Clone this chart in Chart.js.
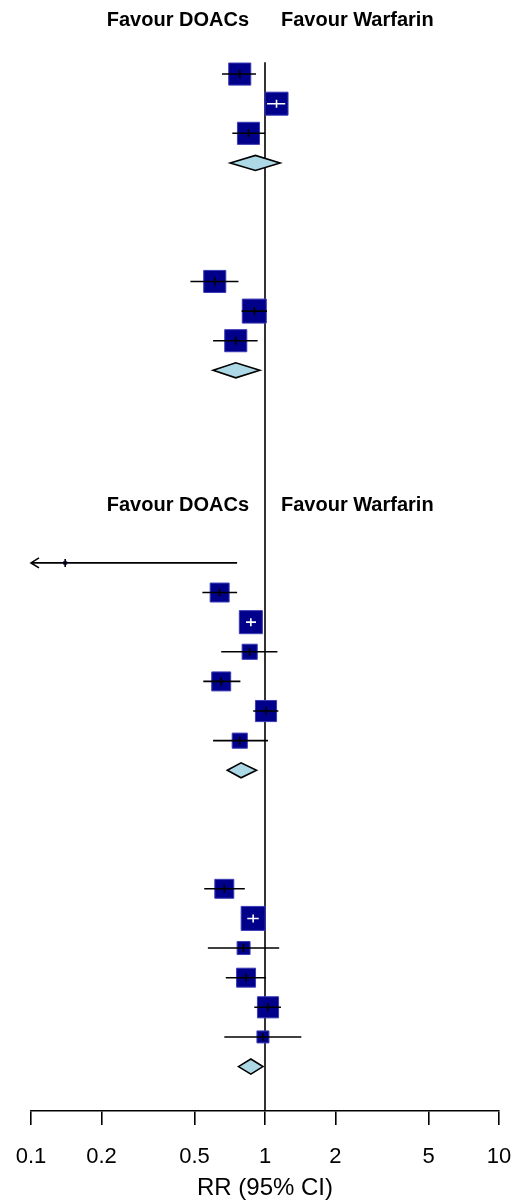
<!DOCTYPE html>
<html>
<head>
<meta charset="utf-8">
<script src="https://cdn.jsdelivr.net/npm/chart.js@4.4.1/dist/chart.umd.min.js"></script>
<style>
  html, body { margin: 0; padding: 0; background: #fff; }
  #wrap { width: 523px; height: 1200px; position: relative; }
</style>
</head>
<body>
<div id="wrap"><canvas id="forest"></canvas></div>
<script>
// row number of each study (counted from the top, blank rows between groups)
const studyRows = [0, 1, 2, 7, 8, 9, 16.5, 17.5, 18.5, 19.5, 20.5, 21.5, 22.5, 27.5, 28.5, 29.5, 30.5, 31.5, 32.5];
const studyRR = [0.78, 1.12, 0.85, 0.61, 0.90, 0.75, 0.14, 0.64, 0.87, 0.86, 0.65, 1.01, 0.78, 0.67, 0.89, 0.81, 0.83, 1.03, 0.98];
const studyLower = [0.655, 1.02, 0.725, 0.48, 0.795, 0.60, 0.02, 0.54, 0.83, 0.65, 0.545, 0.89, 0.60, 0.55, 0.84, 0.57, 0.68, 0.90, 0.67];
const studyUpper = [0.915, 1.22, 1.0, 0.77, 1.02, 0.93, 0.76, 0.76, 0.915, 1.13, 0.785, 1.14, 1.03, 0.82, 0.94, 1.15, 1.01, 1.17, 1.43];
// relative study weight (largest box = 1)
const studyWeight = [0.92, 0.96, 0.92, 0.92, 1, 0.92, 0.13, 0.79, 0.96, 0.63, 0.79, 0.88, 0.63, 0.79, 1, 0.54, 0.79, 0.88, 0.5];

// pooled estimates (diamonds)
const pooledRows = [3, 10, 23.5, 33.5];
const pooledRR = [0.91, 0.75, 0.79, 0.87];
const pooledLower = [0.71, 0.60, 0.69, 0.77];
const pooledUpper = [1.16, 0.95, 0.92, 0.98];

const headerRows = [-1.8, 14.55];
const headerLeft = "Favour DOACs";
const headerRight = "Favour Warfarin";

const xTicks = [0.1, 0.2, 0.5, 1, 2, 5, 10];
const xTitle = "RR (95% CI)";

const BOX_MAX = 24;
const FONT = "'Liberation Sans', Arial, sans-serif";
Chart.defaults.font.family = FONT;

// CI lines, estimate ticks, arrows, diamonds and headers
const forestMarks = {
  id: "forestMarks",
  afterDatasetsDraw(chart) {
    const { ctx, scales: { x, y } } = chart;
    ctx.save();
    ctx.lineWidth = 1.6;
    ctx.lineCap = "butt";

    studyRows.forEach((row, i) => {
      const py = y.getPixelForValue(row);
      const pe = x.getPixelForValue(studyRR[i]);
      const clipped = studyLower[i] < x.min;
      const pl = x.getPixelForValue(Math.max(studyLower[i], x.min));
      const pu = x.getPixelForValue(Math.min(studyUpper[i], x.max));
      const half = studyWeight[i] * BOX_MAX / 2;
      const inside = pl >= pe - half && pu <= pe + half;

      ctx.strokeStyle = inside ? "#fff" : "#000";
      ctx.beginPath();
      ctx.moveTo(pl, py);
      ctx.lineTo(pu, py);
      ctx.moveTo(pe, py - 4);
      ctx.lineTo(pe, py + 4);
      ctx.stroke();

      if (clipped) {
        ctx.beginPath();
        ctx.moveTo(pl + 8, py - 5);
        ctx.lineTo(pl, py);
        ctx.lineTo(pl + 8, py + 5);
        ctx.stroke();
      }
    });

    pooledRows.forEach((row, i) => {
      const py = y.getPixelForValue(row);
      const pe = x.getPixelForValue(pooledRR[i]);
      const pl = x.getPixelForValue(pooledLower[i]);
      const pu = x.getPixelForValue(pooledUpper[i]);
      ctx.beginPath();
      ctx.moveTo(pl, py);
      ctx.lineTo(pe, py - 7.5);
      ctx.lineTo(pu, py);
      ctx.lineTo(pe, py + 7.5);
      ctx.closePath();
      ctx.fillStyle = "#ADD8E6";
      ctx.fill();
      ctx.strokeStyle = "#000";
      ctx.stroke();
    });

    const p1 = x.getPixelForValue(1);
    ctx.font = "bold 20px " + FONT;
    ctx.fillStyle = "#000";
    ctx.textBaseline = "middle";
    headerRows.forEach((row) => {
      const py = y.getPixelForValue(row);
      ctx.textAlign = "right";
      ctx.fillText(headerLeft, p1 - 16, py);
      ctx.textAlign = "left";
      ctx.fillText(headerRight, p1 + 16, py);
    });

    ctx.restore();
  }
};

new Chart(document.getElementById("forest"), {
  type: "scatter",
  data: {
    datasets: [
      {
        label: "Studies",
        data: studyRows.map((row, i) => ({ x: studyRR[i], y: row })),
        pointStyle: "rect",
        pointRadius: studyWeight.map((w) => (w * BOX_MAX) / (2 * Math.SQRT1_2)),
        backgroundColor: "#00008B",
        borderColor: "#3b3bb5",
        borderWidth: 1,
        order: 1
      },
      {
        type: "line",
        label: "No effect",
        data: [{ x: 1, y: -0.4 }, { x: 1, y: 35 }],
        borderColor: "#000",
        borderWidth: 1.6,
        pointRadius: 0,
        order: 2
      }
    ]
  },
  options: {
    responsive: true,
    maintainAspectRatio: false,
    animation: false,
    layout: { autoPadding: false, padding: { left: 31, right: 24, top: 0, bottom: 0 } },
    plugins: {
      legend: { display: false },
      tooltip: { enabled: false }
    },
    scales: {
      x: {
        type: "logarithmic",
        position: "bottom",
        min: 0.1,
        max: 10,
        afterBuildTicks: (axis) => {
          axis.ticks = xTicks.map((v) => ({ value: v }));
        },
        afterFit: (axis) => {
          axis.height = 89;
        },
        ticks: {
          autoSkip: false,
          maxRotation: 0,
          color: "#000",
          padding: 0,
          font: { size: 22, lineHeight: "64px" },
          callback: (value) => String(value)
        },
        grid: {
          drawOnChartArea: false,
          drawTicks: true,
          tickLength: 14,
          color: "#000",
          lineWidth: 1.6
        },
        border: { display: true, color: "#000", width: 1.6 },
        title: {
          display: true,
          text: xTitle,
          color: "#000",
          font: { size: 24, lineHeight: 1 },
          padding: 0
        }
      },
      y: {
        type: "linear",
        min: -2.5,
        max: 35,
        reverse: true,
        display: false
      }
    }
  },
  plugins: [forestMarks]
});
</script>
</body>
</html>
